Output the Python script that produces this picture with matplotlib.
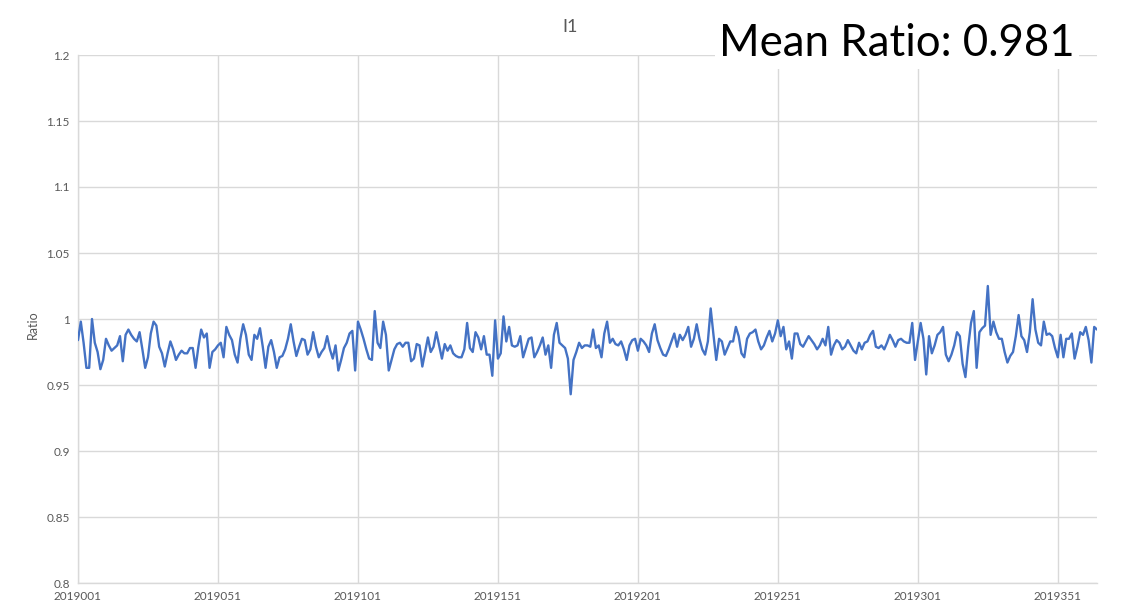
import matplotlib
matplotlib.use("Agg")
import matplotlib.pyplot as plt

# ---------------- data ----------------
days = list(range(2019001, 2019366))
ratio = [
    0.984, 0.998, 0.982, 0.963, 0.963, 1.000, 0.982, 0.975, 0.962, 0.969,
    0.985, 0.980, 0.976, 0.978, 0.980, 0.987, 0.968, 0.988, 0.992, 0.988,
    0.985, 0.983, 0.990, 0.977, 0.963, 0.971, 0.989, 0.998, 0.995, 0.979,
    0.974, 0.964, 0.974, 0.983, 0.977, 0.969, 0.973, 0.976, 0.974, 0.974,
    0.978, 0.978, 0.963, 0.979, 0.992, 0.986, 0.989, 0.963, 0.975, 0.977,
    0.980, 0.982, 0.971, 0.994, 0.988, 0.984, 0.973, 0.967, 0.985, 0.996,
    0.988, 0.973, 0.969, 0.988, 0.985, 0.993, 0.979, 0.963, 0.979, 0.984,
    0.975, 0.963, 0.971, 0.972, 0.977, 0.985, 0.996, 0.983, 0.972, 0.979,
    0.985, 0.984, 0.973, 0.977, 0.990, 0.979, 0.971, 0.975, 0.978, 0.987,
    0.977, 0.970, 0.980, 0.961, 0.969, 0.978, 0.982, 0.989, 0.991, 0.961,
    0.998, 0.992, 0.985, 0.977, 0.970, 0.969, 1.006, 0.982, 0.978, 0.998,
    0.988, 0.961, 0.969, 0.977, 0.981, 0.982, 0.979, 0.982, 0.982, 0.968,
    0.970, 0.981, 0.980, 0.964, 0.975, 0.986, 0.975, 0.979, 0.990, 0.980,
    0.970, 0.981, 0.976, 0.980, 0.974, 0.972, 0.971, 0.971, 0.977, 0.997,
    0.978, 0.975, 0.990, 0.986, 0.977, 0.987, 0.973, 0.973, 0.957, 0.999,
    0.970, 0.974, 1.002, 0.983, 0.994, 0.980, 0.979, 0.980, 0.987, 0.971,
    0.978, 0.985, 0.986, 0.971, 0.975, 0.980, 0.986, 0.973, 0.980, 0.963,
    0.988, 0.997, 0.982, 0.980, 0.978, 0.970, 0.943, 0.969, 0.975, 0.982,
    0.978, 0.980, 0.980, 0.979, 0.992, 0.978, 0.980, 0.971, 0.989, 0.998,
    0.982, 0.985, 0.981, 0.980, 0.983, 0.977, 0.969, 0.980, 0.984, 0.985,
    0.976, 0.985, 0.983, 0.980, 0.975, 0.989, 0.996, 0.984, 0.978, 0.973,
    0.972, 0.977, 0.983, 0.989, 0.979, 0.988, 0.984, 0.988, 0.994, 0.979,
    0.985, 0.996, 0.985, 0.977, 0.973, 0.983, 1.008, 0.988, 0.969, 0.985,
    0.983, 0.973, 0.978, 0.983, 0.983, 0.994, 0.987, 0.974, 0.971, 0.985,
    0.989, 0.990, 0.992, 0.983, 0.977, 0.980, 0.986, 0.991, 0.983, 0.989,
    0.999, 0.987, 0.994, 0.977, 0.983, 0.970, 0.989, 0.989, 0.981, 0.979,
    0.983, 0.987, 0.984, 0.981, 0.977, 0.980, 0.985, 0.980, 0.994, 0.973,
    0.980, 0.984, 0.982, 0.977, 0.979, 0.984, 0.980, 0.976, 0.974, 0.982,
    0.977, 0.982, 0.983, 0.988, 0.991, 0.979, 0.978, 0.980, 0.977, 0.982,
    0.988, 0.984, 0.979, 0.984, 0.985, 0.983, 0.982, 0.982, 0.997, 0.969,
    0.983, 0.997, 0.985, 0.958, 0.987, 0.974, 0.980, 0.988, 0.990, 0.994,
    0.973, 0.968, 0.973, 0.980, 0.990, 0.987, 0.966, 0.956, 0.979, 0.997,
    1.006, 0.963, 0.990, 0.993, 0.995, 1.025, 0.988, 0.998, 0.990, 0.985,
    0.985, 0.975, 0.967, 0.972, 0.975, 0.987, 1.003, 0.987, 0.984, 0.975,
    0.990, 1.015, 0.992, 0.982, 0.980, 0.998, 0.988, 0.989, 0.987, 0.978,
    0.971, 0.988, 0.971, 0.985, 0.985, 0.989, 0.970, 0.979, 0.990, 0.988,
    0.994, 0.984, 0.967, 0.994, 0.992,
]
xticks = [2019001, 2019051, 2019101, 2019151, 2019201, 2019251, 2019301, 2019351]
xtick_labels = [str(t) for t in xticks]
yticks = [0.8, 0.85, 0.9, 0.95, 1.0, 1.05, 1.1, 1.15, 1.2]
ytick_labels = ["0.8", "0.85", "0.9", "0.95", "1", "1.05", "1.1", "1.15", "1.2"]
title_text = "I1"
mean_text = "Mean Ratio: 0.981"
ylabel_text = "Ratio"

# ---------------- figure ----------------
W, H = 1127, 614
fig = plt.figure(figsize=(W / 100, H / 100), dpi=100)
fig.patch.set_facecolor("white")

left, right, top, bottom = 78, 1097, 55, 583
ax = fig.add_axes([left / W, 1 - bottom / H, (right - left) / W, (bottom - top) / H])

grid_c = "#d9d9d9"
text_c = "#595959"
font = ["Lato", "DejaVu Sans"]

ax.plot(days, ratio, color="#4472C4", lw=1.7, solid_joinstyle="round",
        solid_capstyle="round", zorder=3)

ax.set_xlim(2019001, 2019365)
ax.set_ylim(0.8, 1.2)
ax.set_xticks(xticks)
ax.set_xticklabels(xtick_labels, fontsize=8.5, color=text_c, family=font)
ax.set_yticks(yticks)
ax.set_yticklabels(ytick_labels, fontsize=8.5, color=text_c, family=font)
ax.tick_params(axis="both", length=0, pad=6)
ax.grid(True, color=grid_c, lw=1.0, zorder=0)
ax.set_axisbelow(True)

for s in ["top", "right"]:
    ax.spines[s].set_visible(False)
ax.spines["left"].set_color(grid_c)
ax.spines["bottom"].set_color(grid_c)
ax.spines["left"].set_linewidth(1.0)
ax.spines["bottom"].set_linewidth(1.0)

fig.text(33 / W, 1 - 325 / H, ylabel_text, rotation=90, ha="center", va="center",
         fontsize=9, color=text_c, family=font)
fig.text(570 / W, 1 - 27 / H, title_text, ha="center", va="center",
         fontsize=13, color=text_c, family=font)
fig.text(1075 / W, 1 - 44 / H, mean_text, ha="right", va="center",
         fontsize=31.5, color="black", family=font, zorder=10,
         bbox=dict(facecolor="white", edgecolor="none", pad=3))

fig.savefig("out.png", dpi=100, facecolor="white")
